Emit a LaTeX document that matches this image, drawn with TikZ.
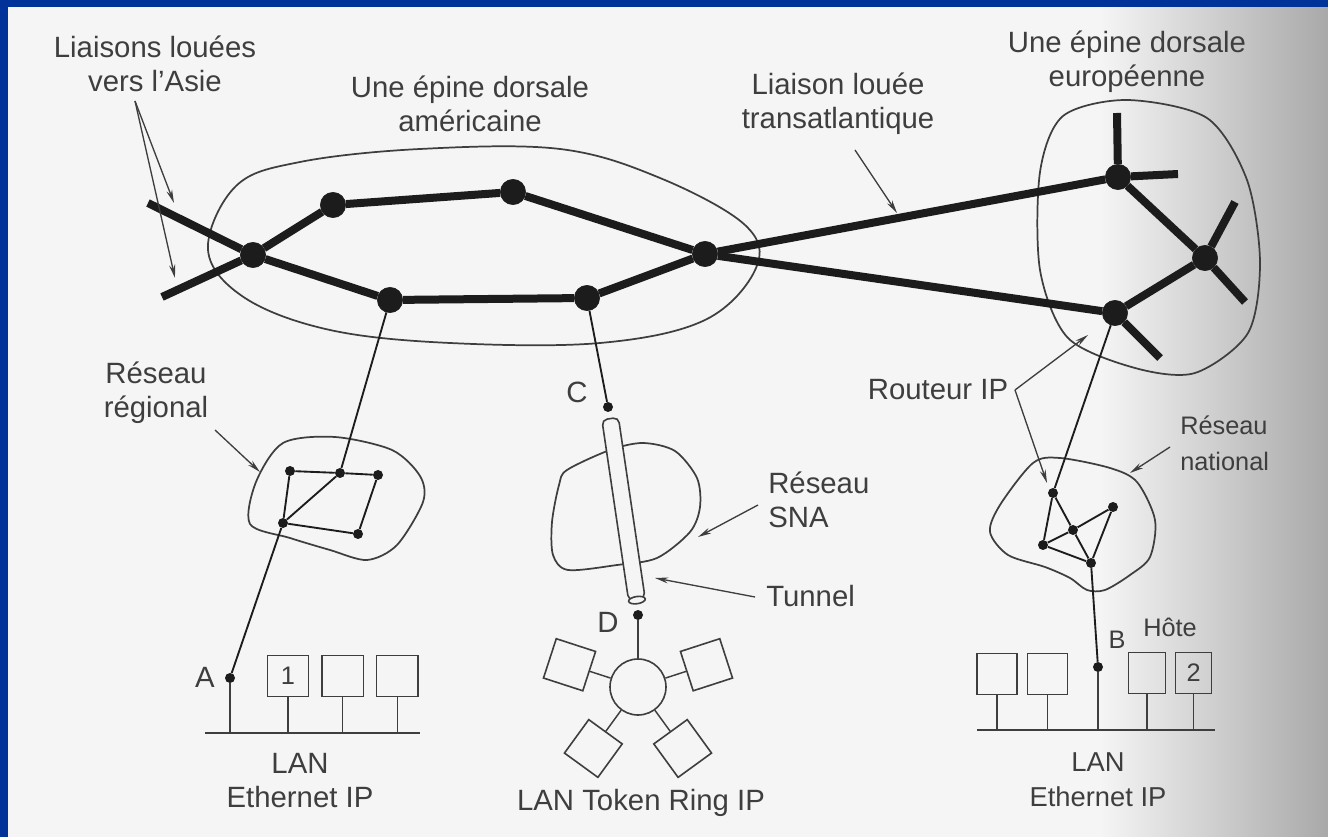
\documentclass[tikz,border=0pt]{standalone}
\usepackage{fontspec}
\setmainfont{Liberation Sans}
\usetikzlibrary{positioning,arrows.meta}

\definecolor{pageblue}{HTML}{003399}
\definecolor{paper}{HTML}{F5F5F5}
\definecolor{paperedge}{HTML}{A8A8A8}
\definecolor{ink}{HTML}{1C1C1C}
\definecolor{txt}{HTML}{3E3E3E}

\tikzset{
  lbl/.style={font=\fontsize{22}{25.5}\selectfont, text=txt, align=center, inner sep=0pt},
  small/.style={font=\fontsize{19}{27}\selectfont, text=txt, align=center, inner sep=0pt},
  router/.style={circle, fill=ink, draw=ink, inner sep=0pt, minimum size=19pt},
  hop/.style={circle, fill=ink, inner sep=0pt, minimum size=7.5pt},
  backbone/.style={line width=6pt, draw=ink},
  link/.style={line width=1.4pt, draw=ink},
  wire/.style={line width=1.1pt, draw=txt},
  cloud/.style={line width=1.3pt, draw=txt},
  pointer/.style={line width=1pt, draw=txt, -{Stealth[length=10pt, width=4.5pt]}},
  host/.style={draw=txt, line width=1.2pt, minimum size=31pt, inner sep=0pt,
    font=\fontsize{19}{22}\selectfont, text=txt},
}

\begin{document}
\begin{tikzpicture}[x=0.75pt, y=-0.75pt, node distance=41pt]

% page
\useasboundingbox (0,0) rectangle (1328,837);
\fill [paper] (0,0) rectangle (1330,840);
\shade [left color=paper, right color=paperedge] (1100,0) rectangle (1330,840);
\fill [pageblue] (0,0) rectangle (1330,7);
\fill [pageblue] (0,0) rectangle (8,840);

% clouds
\draw [cloud] plot [smooth cycle, tension=0.6] coordinates {(208,250) (236,186) (300,162) (420,149) (560,149) (660,178) (745,225) (756,268) (705,320) (600,343) (450,343) (330,330) (245,298)};
\draw [cloud] plot [smooth cycle] coordinates {(1127,100) (1207,118) (1247,180) (1260,262) (1248,333) (1195,373) (1135,368) (1068,338) (1040,270) (1040,172) (1063,116)};
\draw [cloud] plot [smooth cycle] coordinates {(283,443) (335,437) (392,450) (420,476) (423,502) (397,545) (367,560) (330,550) (290,538) (250,524) (256,482)};
\draw [cloud] plot [smooth cycle] coordinates {(567,470) (610,450) (643,443) (675,451) (697,478) (700,507) (690,532) (657,558) (617,565) (568,570) (553,555) (552,522) (559,485)};
\draw [cloud] plot [smooth cycle] coordinates {(1033,463) (1060,458) (1110,468) (1137,482) (1155,520) (1150,557) (1130,575) (1105,590) (1087,590) (1070,578) (1045,567) (1008,555) (990,532) (1000,505)};

% backbones
\node [router] (u1) at (253,255) {};
\node [router] (u2) at (333,205) {};
\node [router] (u3) at (513,192) {};
\node [router] (u4) at (390,300) {};
\node [router] (u5) at (587,298) {};
\node [router] (u6) at (705,254) {};
\node [router] (e1) at (1118,177) {};
\node [router] (e2) at (1205,258) {};
\node [router] (e3) at (1115,313) {};

\coordinate (asia1) at (148,203);
\coordinate (asia2) at (162,297);
\coordinate (s1) at (1117,113);
\coordinate (s2) at (1178,174);
\coordinate (s3) at (1235,202);
\coordinate (s4) at (1245,302);
\coordinate (s5) at (1160,358);

\path [backbone] (asia1) edge (u1);
\path [backbone] (asia2) edge (u1);
\path [backbone] (u1) edge (u4);
\path [backbone] (u1) edge (u2);
\path [backbone] (u2) edge (u3);
\path [backbone] (u3) edge (u6);
\path [backbone] (u4) edge (u5);
\path [backbone] (u5) edge (u6);
\path [backbone] (u6) edge (e1);
\path [backbone] (u6) edge (e3);
\path [backbone] (e1) edge (e2);
\path [backbone] (e2) edge (e3);
\path [backbone] (e1) edge (s1);
\path [backbone] (e1) edge (s2);
\path [backbone] (e2) edge (s3);
\path [backbone] (e2) edge (s4);
\path [backbone] (e3) edge (s5);

% regional network
\node [hop] (r1) at (290,471) {};
\node [hop] (r2) at (340,473) {};
\node [hop] (r3) at (378,475) {};
\node [hop] (r4) at (358,534) {};
\node [hop] (r5) at (283,523) {};

\path [link] (r1) edge (r2);
\path [link] (r2) edge (r3);
\path [link] (r3) edge (r4);
\path [link] (r4) edge (r5);
\path [link] (r5) edge (r1);
\path [link] (r5) edge (r2);
\path [link] (u4) edge (r2);

% national network
\node [hop] (m1) at (1053,493) {};
\node [hop] (m2) at (1113,507) {};
\node [hop] (m3) at (1073,530) {};
\node [hop] (m4) at (1043,545) {};
\node [hop] (m5) at (1091,563) {};

\path [link] (m1) edge (m4);
\path [link] (m1) edge (m3);
\path [link] (m3) edge (m5);
\path [link] (m3) edge (m2);
\path [link] (m3) edge (m4);
\path [link] (m2) edge (m5);
\path [link] (m4) edge (m5);
\path [link] (e3) edge (m1);

% left LAN
\node [hop] (ptA) at (230,678) {};
\node [lbl] (labA) at (205,677) {A};
\node [host] (h1) at (288,676) {1};
\node [host] (h2) [right of = h1] {};
\node [host] (h3) [right of = h2] {};
\coordinate (busL1) at (205,733);
\coordinate (busL2) at (420,733);
\path [wire] (busL1) edge (busL2);
\path [wire] (ptA) edge (ptA |- busL1);
\path [wire] (h1) edge (h1 |- busL1);
\path [wire] (h2) edge (h2 |- busL1);
\path [wire] (h3) edge (h3 |- busL1);
\path [link] (r5) edge (ptA);
\node [lbl] (lanL) at (300,781) {LAN\\Ethernet IP};

% tunnel and token ring
\node [hop] (ptC) at (608,407) {};
\node [lbl] (labC) at (577,392) {C};
\path [link] (u5) edge (ptC);
\node [draw=txt, line width=1.2pt, fill=paper, rounded corners=4pt, rotate=8.4,
  minimum width=12.5pt, minimum height=137pt, inner sep=0pt] (tunnel) at (623.5,509) {};
\draw [draw=txt, line width=1.2pt, fill=paper, rotate around={8.4:(tunnel.south)}]
  (tunnel.south) ellipse (6.3pt and 2.7pt);
\node [hop] (ptD) at (638,615) {};
\node [lbl] (labD) at (608,622) {D};

\node [circle, draw=txt, line width=1.2pt, minimum size=42pt, inner sep=0pt] (ring) at (638,687) {};
\path (ring) ++(-18:72) node [host, rotate=18] (t1) {};
\path (ring) ++(198:72) node [host, rotate=72] (t2) {};
\path (ring) ++(126:76) node [host, rotate=54] (t3) {};
\path (ring) ++(54:76) node [host, rotate=36] (t4) {};
\path [wire] (ptD) edge (ring);
\path [wire] (ring) edge (t1);
\path [wire] (ring) edge (t2);
\path [wire] (ring) edge (t3);
\path [wire] (ring) edge (t4);
\node [lbl] (lanT) at (641,803) {LAN Token Ring IP};

% right LAN
\node [hop] (ptB) at (1098,667) {};
\node [small] (labB) at (1117,640) {B};
\node [small] (hote) at (1170,627) {Hôte};
\node [host, minimum width=30pt] (h4) at (997,674) {};
\node [host, minimum width=30pt] (h5) [right of = h4, node distance=38pt] {};
\node [host, minimum width=28pt] (h6) at (1147,673) {};
\node [host, minimum width=27pt] (h7) [right of = h6, node distance=35pt] {2};
\coordinate (busR1) at (977,730);
\coordinate (busR2) at (1215,730);
\path [wire] (busR1) edge (busR2);
\path [wire] (ptB) edge (ptB |- busR1);
\path [wire] (h4) edge (h4 |- busR1);
\path [wire] (h5) edge (h5 |- busR1);
\path [wire] (h6) edge (h6 |- busR1);
\path [wire] (h7) edge (h7 |- busR1);
\path [link] (m5) edge (ptB);
\node [small, font=\fontsize{20.5}{26}\selectfont] (lanR) at (1098,780) {LAN\\Ethernet IP};

% labels
\node [lbl] (asialbl) at (155,64) {Liaisons louées\\vers l'Asie};
\node [lbl] (usalbl) at (470,104) {Une épine dorsale\\américaine};
\node [lbl] (atlbl) at (838,104) {Liaison louée\\transatlantique};
\node [lbl] (eulbl) at (1127,62) {Une épine dorsale\\européenne};
\node [lbl] (reglbl) at (156,393) {Réseau\\régional};
\node [lbl, anchor=west, align=left] (snalbl) at (768,500) {Réseau\\SNA};
\node [lbl, anchor=west] (tunlbl) at (766,596) {Tunnel};
\node [lbl] (rtlbl) at (938,390) {Routeur IP};
\node [small, anchor=west, align=left] (natlbl) at (1180,443) {Réseau\\national};

% pointers
\coordinate (asiaptr) at (135,101);
\coordinate (asiatip1) at (174,203);
\coordinate (asiatip2) at (175,278);
\coordinate (atptr) at (855,150);
\coordinate (attip) at (897,213);
\coordinate (regptr) at (215,430);
\coordinate (regtip) at (260,472);
\coordinate (snaptr) at (758,505);
\coordinate (snatip) at (698,537);
\coordinate (tunptr) at (755,597);
\coordinate (tuntip) at (655,578);
\coordinate (rtptr) at (1015,390);
\coordinate (rttip1) at (1088,335);
\coordinate (rttip2) at (1047,483);
\coordinate (natptr) at (1170,447);
\coordinate (nattip) at (1130,473);

\draw [pointer] (asiaptr) -- (asiatip1);
\draw [pointer] (asiaptr) -- (asiatip2);
\draw [pointer] (atptr) -- (attip);
\draw [pointer] (regptr) -- (regtip);
\draw [pointer] (snaptr) -- (snatip);
\draw [pointer] (tunptr) -- (tuntip);
\draw [pointer] (rtptr) -- (rttip1);
\draw [pointer] (rtptr) -- (rttip2);
\draw [pointer] (natptr) -- (nattip);

\end{tikzpicture}
\end{document}
